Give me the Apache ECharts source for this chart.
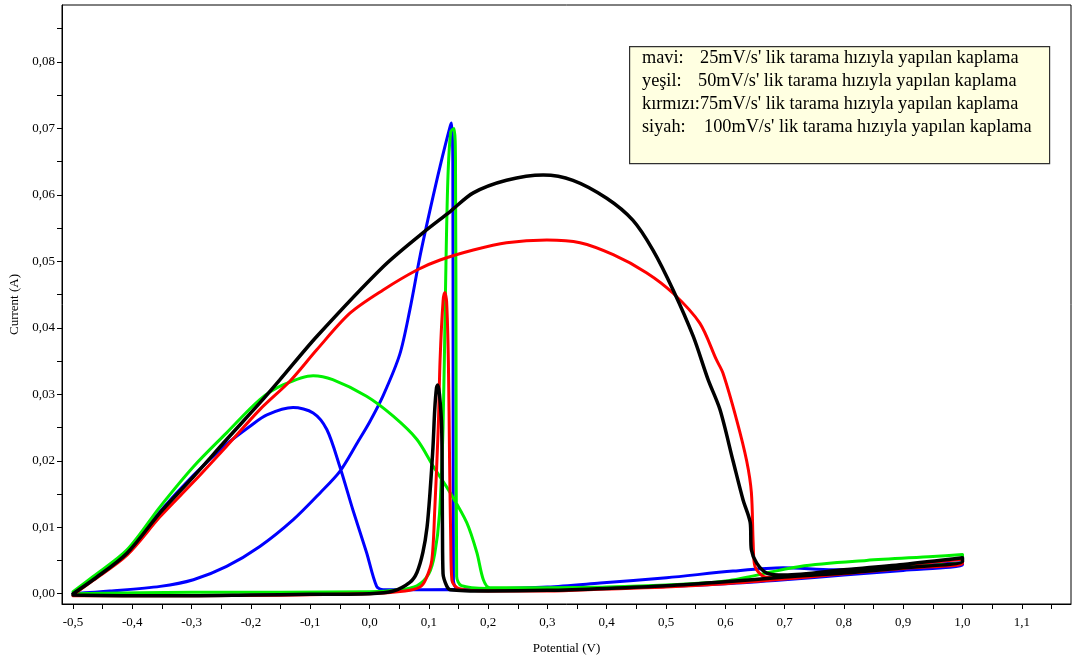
<!DOCTYPE html>
<html><head><meta charset="utf-8">
<script src="https://cdn.jsdelivr.net/npm/echarts@6/dist/echarts.min.js"></script>
<style>html,body{margin:0;padding:0;background:#fff}#c{width:1074px;height:661px}</style>
</head><body><div id="c"></div>
<script>
// Tick values
const xLabelValues = [-0.5,-0.4,-0.3,-0.2,-0.1,0,0.1,0.2,0.3,0.4,0.5,0.6,0.7,0.8,0.9,1.0,1.1];
const xTickValues = [-0.5,-0.45,-0.4,-0.35,-0.3,-0.25,-0.2,-0.15,-0.1,-0.05,0,0.05,0.1,0.15,0.2,0.25,0.3,0.35,0.4,0.45,0.5,0.55,0.6,0.65,0.7,0.75,0.8,0.85,0.9,0.95,1.0,1.05,1.1,1.15];
const yLabelValues = [0,0.01,0.02,0.03,0.04,0.05,0.06,0.07,0.08];
const yTickValues = [0,0.005,0.01,0.015,0.02,0.025,0.03,0.035,0.04,0.045,0.05,0.055,0.06,0.065,0.07,0.075,0.08,0.085];

// mavi (blue) 25 mV/s : [potential V, current A]
const blueForward = [[-0.5,0.0],[-0.438,0.0004],[-0.353,0.0011],[-0.297,0.0021],[-0.241,0.0041],[-0.185,0.0071],[-0.129,0.0111],[-0.083,0.0152],[-0.05,0.0184],[-0.02,0.0228],[0.0,0.0258],[0.023,0.0298],[0.051,0.036],[0.068,0.0427],[0.085,0.0507],[0.102,0.0577],[0.119,0.0643],[0.136,0.0703],[0.1386,0.0708],[0.1405,0.065],[0.141,0.03],[0.1415,0.002],[0.15,0.0006],[0.2,0.0005],[0.3,0.0006],[0.4,0.0008],[0.5,0.0011],[0.6,0.0015],[0.7,0.0021],[0.8,0.0028],[0.9,0.0035],[1.0,0.0043]];
const blueReverse = [[1.0,0.0047],[0.9,0.0041],[0.782,0.0036],[0.698,0.0039],[0.613,0.0034],[0.501,0.0024],[0.389,0.0016],[0.3,0.001],[0.2,0.0007],[0.1,0.0006],[0.023,0.0006],[0.012,0.0011],[-0.005,0.0062],[-0.028,0.0126],[-0.05,0.0191],[-0.072,0.0247],[-0.095,0.0272],[-0.129,0.028],[-0.173,0.0269],[-0.2015,0.0252],[-0.241,0.0225],[-0.297,0.0178],[-0.353,0.0124],[-0.409,0.0063],[-0.466,0.0022],[-0.5,0.0]];

// yeşil (green) 50 mV/s
const greenForward = [[-0.5,0.0],[-0.3,0.0002],[0.0,0.0003],[0.05,0.0006],[0.08,0.0012],[0.1,0.003],[0.11,0.006],[0.118,0.012],[0.124,0.025],[0.128,0.045],[0.132,0.062],[0.137,0.0695],[0.1425,0.070],[0.145,0.065],[0.146,0.03],[0.147,0.0026],[0.155,0.0012],[0.2,0.0008],[0.3,0.0008],[0.4,0.001],[0.5,0.0013],[0.6,0.0018],[0.7,0.0024],[0.8,0.0032],[0.9,0.004],[1.0,0.0049]];
const greenReverse = [[1.0,0.0059],[0.95,0.0056],[0.838,0.005],[0.726,0.0041],[0.6,0.0019],[0.5,0.0013],[0.4,0.001],[0.3,0.0009],[0.203,0.0009],[0.192,0.0021],[0.181,0.0062],[0.164,0.0107],[0.136,0.0152],[0.108,0.0191],[0.08,0.0232],[0.04,0.0267],[-0.005,0.0297],[-0.062,0.0322],[-0.095,0.0328],[-0.146,0.0314],[-0.185,0.0292],[-0.241,0.0242],[-0.297,0.0191],[-0.353,0.0131],[-0.409,0.0066],[-0.466,0.0026],[-0.5,0.0003]];

// kırmızı (red) 75 mV/s
const redForward = [[-0.5,-0.0003],[-0.3,-0.0003],[0.0,0.0],[0.06,0.0004],[0.085,0.001],[0.095,0.0022],[0.105,0.005],[0.11,0.0126],[0.116,0.0252],[0.119,0.0352],[0.124,0.044],[0.127,0.0453],[0.13,0.044],[0.133,0.035],[0.135,0.02],[0.137,0.008],[0.139,0.002],[0.15,0.0008],[0.2,0.0004],[0.3,0.0004],[0.4,0.0007],[0.5,0.001],[0.6,0.0015],[0.7,0.0022],[0.8,0.003],[0.9,0.0038],[1.0,0.0045]];
const redReverse = [[1.0,0.0052],[0.9,0.0043],[0.8,0.0035],[0.7,0.0026],[0.68,0.0024],[0.664,0.0026],[0.65,0.0041],[0.647,0.0077],[0.644,0.0152],[0.636,0.020],[0.619,0.0262],[0.596,0.0332],[0.585,0.0352],[0.557,0.0407],[0.512,0.0452],[0.467,0.0483],[0.411,0.051],[0.355,0.0528],[0.299,0.0532],[0.231,0.0528],[0.175,0.0517],[0.119,0.0502],[0.08,0.0487],[0.023,0.0457],[-0.033,0.0422],[-0.089,0.0367],[-0.134,0.032],[-0.185,0.0277],[-0.241,0.0222],[-0.297,0.0168],[-0.353,0.0116],[-0.409,0.0058],[-0.466,0.002],[-0.5,-0.0002]];

// siyah (black) 100 mV/s
const blackForward = [[-0.5,-0.0002],[-0.4,-0.0003],[-0.3,-0.0003],[-0.2,-0.0002],[-0.1,-0.0001],[0.0,0.0],[0.04,0.0004],[0.068,0.0017],[0.08,0.0032],[0.09,0.0062],[0.097,0.010],[0.102,0.0152],[0.107,0.022],[0.11,0.0277],[0.113,0.031],[0.115,0.0314],[0.118,0.030],[0.1217,0.025],[0.123,0.010],[0.124,0.003],[0.13,0.0012],[0.136,0.0006],[0.2,0.0004],[0.3,0.0005],[0.4,0.0008],[0.5,0.0012],[0.6,0.0018],[0.7,0.0025],[0.8,0.0031],[0.9,0.0039],[1.0,0.0048]];
const blackReverse = [[1.0,0.0054],[0.9,0.0044],[0.8,0.0036],[0.7,0.0028],[0.67,0.0031],[0.653,0.0046],[0.644,0.0066],[0.642,0.0107],[0.63,0.0141],[0.613,0.020],[0.591,0.0277],[0.571,0.0322],[0.546,0.0387],[0.512,0.0457],[0.478,0.0517],[0.444,0.0562],[0.40,0.0595],[0.343,0.0622],[0.293,0.063],[0.231,0.0622],[0.175,0.0603],[0.136,0.0575],[0.09,0.0543],[0.023,0.0492],[-0.089,0.0387],[-0.151,0.0322],[-0.185,0.0287],[-0.241,0.0232],[-0.297,0.0176],[-0.353,0.0122],[-0.409,0.0061],[-0.466,0.0021],[-0.5,0.0]];

const legendLabels = ['mavi:', 'yeşil:', 'kırmızı:', 'siyah:'];
const legendTexts = ["25mV/s' lik tarama hızıyla yapılan kaplama", "50mV/s' lik tarama hızıyla yapılan kaplama", "75mV/s' lik tarama hızıyla yapılan kaplama", "100mV/s' lik tarama hızıyla yapılan kaplama"];

const FONT = '"Liberation Serif", "Times New Roman", serif';
const chart = echarts.init(document.getElementById('c'), null, {renderer: 'canvas'});

function mk(name, color, width, fwd, rev) {
  return {
    name, type: 'line', data: fwd.concat(rev), showSymbol: false, symbol: 'none',
    smooth: 0.3, lineStyle: {color, width, join: 'round', cap: 'round'}, animation: false
  };
}

const textStyle = {font: '18.3px ' + FONT, fill: '#000'};
const graphics = [
  {type: 'rect', left: 629, top: 46, z: 100, shape: {width: 420, height: 117}, style: {fill: '#ffffe1', stroke: '#303030', lineWidth: 1.2}},
  {type: 'text', left: 642, top: 49, z: 101, style: Object.assign({text: legendLabels[0]}, textStyle)},
  {type: 'text', left: 700, top: 49, z: 101, style: Object.assign({text: legendTexts[0]}, textStyle)},
  {type: 'text', left: 642, top: 72, z: 101, style: Object.assign({text: legendLabels[1]}, textStyle)},
  {type: 'text', left: 698, top: 72, z: 101, style: Object.assign({text: legendTexts[1]}, textStyle)},
  {type: 'text', left: 642, top: 95, z: 101, style: Object.assign({text: legendLabels[2] + legendTexts[2]}, textStyle)},
  {type: 'text', left: 642, top: 118, z: 101, style: Object.assign({text: legendLabels[3]}, textStyle)},
  {type: 'text', left: 704, top: 118, z: 101, style: Object.assign({text: legendTexts[3]}, textStyle)}
];

chart.setOption({
  animation: false,
  backgroundColor: '#fff',
  grid: {left: 62, right: 3, top: 5, bottom: 57, show: true, borderColor: '#000', borderWidth: 1},
  xAxis: {
    type: 'value', min: -0.5186, max: 1.183,
    name: 'Potential (V)', nameLocation: 'middle', nameGap: 38,
    nameTextStyle: {fontFamily: FONT, fontSize: 13, color: '#000'},
    axisLine: {show: true, onZero: false, lineStyle: {color: '#000', width: 1}},
    axisTick: {show: true, inside: false, length: 5, lineStyle: {color: '#000'}, customValues: xTickValues},
    axisLabel: {fontFamily: FONT, fontSize: 13, color: '#000', margin: 12, customValues: xLabelValues,
      formatter: v => v.toFixed(1).replace('.', ',')},
    splitLine: {show: false}
  },
  yAxis: {
    type: 'value', min: -0.00155, max: 0.08857,
    name: 'Current (A)', nameLocation: 'middle', nameGap: 33,
    nameTextStyle: {fontFamily: FONT, fontSize: 13, color: '#000'},
    axisLine: {show: true, onZero: false, lineStyle: {color: '#000', width: 1}},
    axisTick: {show: true, inside: false, length: 5, lineStyle: {color: '#000'}, customValues: yTickValues},
    axisLabel: {fontFamily: FONT, fontSize: 13, color: '#000', margin: 7, customValues: yLabelValues,
      formatter: v => v.toFixed(2).replace('.', ',')},
    splitLine: {show: false}
  },
  series: [
    mk('mavi', '#0000ff', 3, blueForward, blueReverse),
    mk('yeşil', '#00f000', 3, greenForward, greenReverse),
    mk('kırmızı', '#ff0000', 3, redForward, redReverse),
    mk('siyah', '#000000', 3.5, blackForward, blackReverse)
  ],
  graphic: graphics
});
</script>
</body></html>
